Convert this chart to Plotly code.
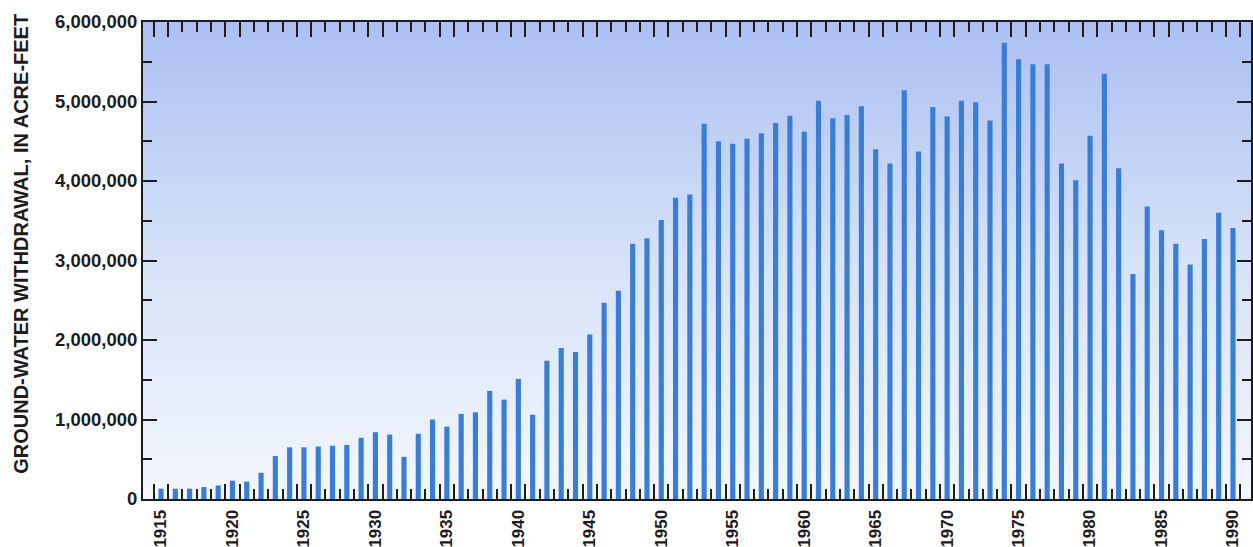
import base64
import plotly.graph_objects as go

# Annual ground-water withdrawal, acre-feet
years = list(range(1915, 1991))
withdrawal_maf = [
    0.13, 0.13, 0.13, 0.15, 0.17, 0.23, 0.22, 0.33, 0.54, 0.65,   # 1915-1924
    0.65, 0.66, 0.67, 0.68, 0.77, 0.84, 0.81, 0.53, 0.82, 1.00,   # 1925-1934
    0.91, 1.07, 1.09, 1.36, 1.25, 1.51, 1.06, 1.74, 1.90, 1.85,   # 1935-1944
    2.07, 2.47, 2.62, 3.21, 3.28, 3.51, 3.79, 3.83, 4.72, 4.50,   # 1945-1954
    4.47, 4.53, 4.60, 4.73, 4.82, 4.62, 5.01, 4.79, 4.83, 4.94,   # 1955-1964
    4.40, 4.22, 5.14, 4.37, 4.93, 4.81, 5.01, 4.99, 4.76, 5.74,   # 1965-1974
    5.53, 5.47, 5.47, 4.22, 4.01, 4.57, 5.35, 4.16, 2.83, 3.68,   # 1975-1984
    3.38, 3.21, 2.95, 3.27, 3.60, 3.41,                           # 1985-1990
]
withdrawal = [round(v * 1_000_000) for v in withdrawal_maf]

y_tick_values = [0, 1_000_000, 2_000_000, 3_000_000, 4_000_000, 5_000_000, 6_000_000]
y_tick_labels = ["0", "1,000,000", "2,000,000", "3,000,000", "4,000,000", "5,000,000", "6,000,000"]
y_minor_values = [500_000, 1_500_000, 2_500_000, 3_500_000, 4_500_000, 5_500_000]

label_years = list(range(1915, 1991, 5))

# Year-boundary tick marks: long ones bracket every fifth year
long_ticks = []
long_text = []
for yr in label_years:
    long_ticks += [yr - 0.5, yr + 0.5]
    long_text += [str(yr), ""]
short_ticks = [b + 0.5 for b in range(1914, 1991) if (b + 0.5) not in long_ticks]

INK = "#1f1b1c"
FONT = "Liberation Sans, Arial, sans-serif"

# Vertical wash behind the bars
svg = (
    '<svg xmlns="http://www.w3.org/2000/svg" viewBox="0 0 100 100" preserveAspectRatio="none">'
    '<defs><linearGradient id="g" x1="0" y1="0" x2="0" y2="1">'
    '<stop offset="0" stop-color="#abbff2"/>'
    '<stop offset="0.5" stop-color="#d6e2f8"/>'
    '<stop offset="1" stop-color="#f3f7fd"/>'
    '</linearGradient></defs>'
    '<rect width="100" height="100" fill="url(#g)"/></svg>'
)
wash = "data:image/svg+xml;base64," + base64.b64encode(svg.encode()).decode()

fig = go.Figure(
    go.Bar(
        x=years,
        y=withdrawal,
        width=0.36,
        marker=dict(color="#3a7dd6", line=dict(width=0)),
        hoverinfo="x+y",
    )
)

fig.update_layout(
    width=1253,
    height=547,
    margin=dict(l=143, r=2, t=22, b=48, autoexpand=False),
    paper_bgcolor="white",
    plot_bgcolor="rgba(0,0,0,0)",
    showlegend=False,
    font=dict(family=FONT, color=INK),
    images=[
        dict(
            source=wash, xref="paper", yref="paper", x=0, y=1,
            sizex=1, sizey=1, xanchor="left", yanchor="top",
            sizing="stretch", layer="below",
        )
    ],
    xaxis=dict(
        range=[1913.74, 1991.26],
        tickmode="array",
        tickvals=long_ticks,
        ticktext=long_text,
        ticks="inside",
        ticklen=15,
        tickwidth=2,
        tickcolor=INK,
        tickangle=-90,
        ticklabelshift=7,
        ticklabelstandoff=2,
        tickfont=dict(size=17, family=FONT, color=INK, weight="bold"),
        minor=dict(tickvals=short_ticks, ticks="inside", ticklen=10, tickwidth=2, tickcolor=INK),
        showline=True,
        linewidth=2,
        linecolor=INK,
        mirror="ticks",
        showgrid=False,
        zeroline=False,
        automargin=False,
        fixedrange=True,
    ),
    yaxis=dict(
        range=[0, 6_000_000],
        tickmode="array",
        tickvals=y_tick_values,
        ticktext=y_tick_labels,
        ticks="inside",
        ticklen=14,
        tickwidth=2,
        tickcolor=INK,
        tickfont=dict(size=18.5, family=FONT, color=INK, weight="bold"),
        minor=dict(tickvals=y_minor_values, ticks="inside", ticklen=9, tickwidth=2, tickcolor=INK),
        showline=True,
        linewidth=2,
        linecolor=INK,
        mirror="ticks",
        showgrid=False,
        zeroline=False,
        automargin=False,
        fixedrange=True,
    ),
    annotations=[
        dict(
            text="GROUND-WATER WITHDRAWAL, IN ACRE-FEET",
            xref="paper", yref="paper",
            x=0, y=0.535, xshift=-122,
            xanchor="center", yanchor="middle",
            textangle=-90, showarrow=False,
            font=dict(size=20, family=FONT, color=INK, weight="bold"),
        )
    ],
)

fig.write_html("out.html")
